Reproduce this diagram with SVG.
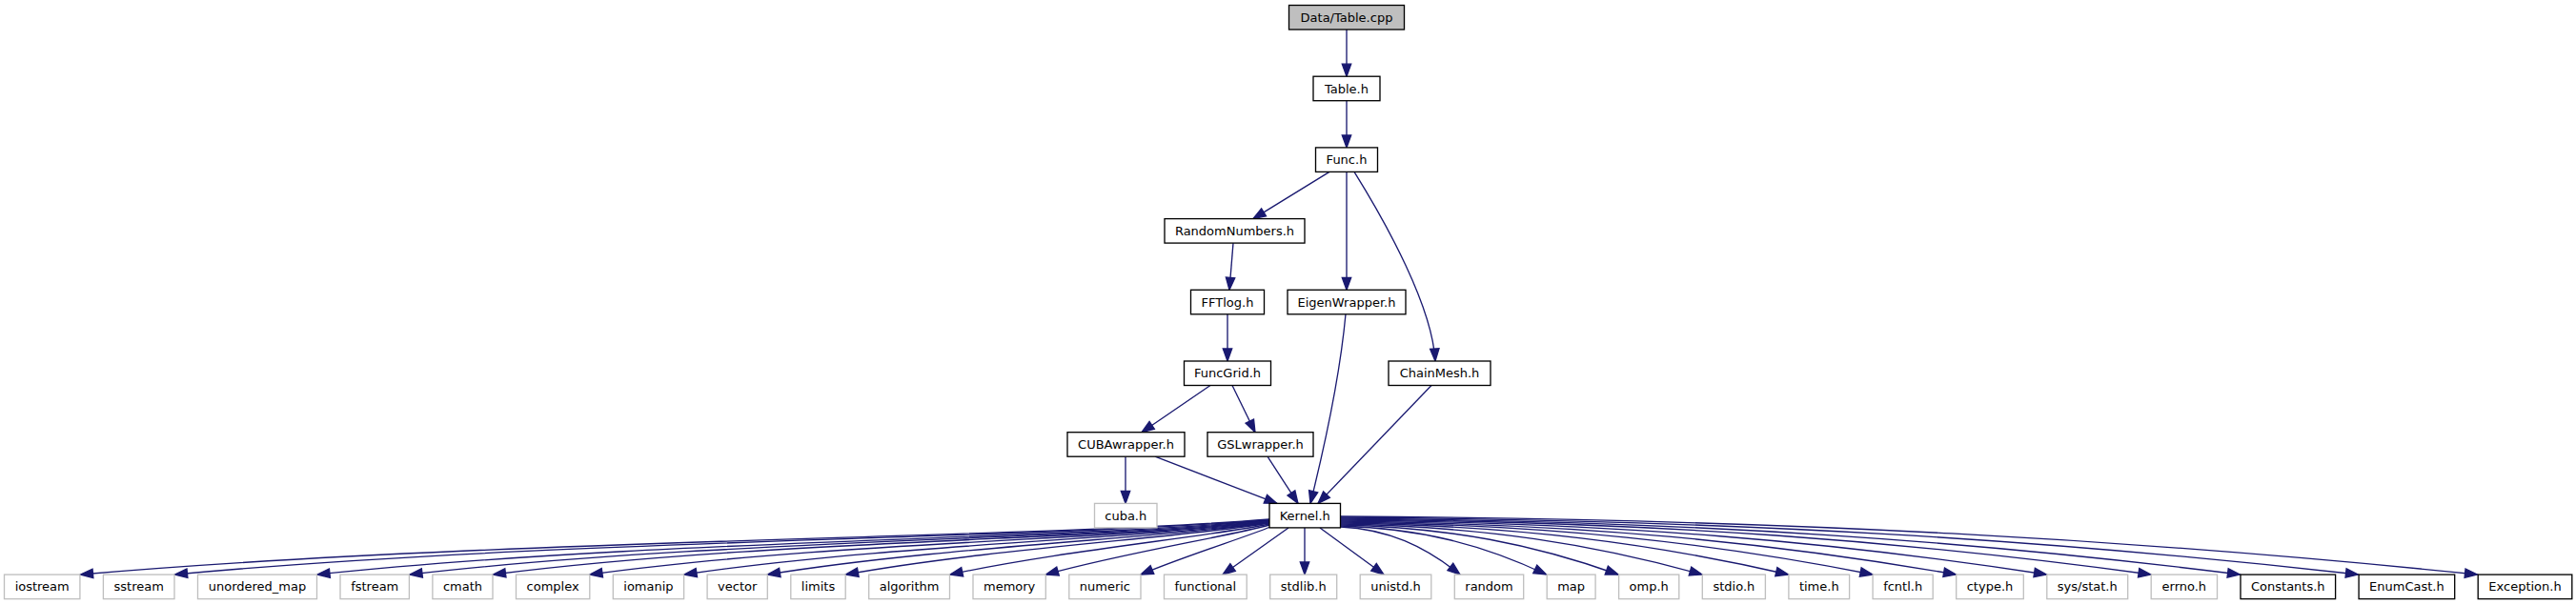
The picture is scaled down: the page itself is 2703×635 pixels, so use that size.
<svg xmlns="http://www.w3.org/2000/svg" width="2703" height="635" viewBox="0 0 2703 635">
<style>
.n rect{fill:#ffffff;stroke:#000000;stroke-width:1.33}
.n.root rect{fill:#bfbfbf}
.n.ext rect{stroke:#bfbfbf}
.n text{font-family:"DejaVu Sans","Liberation Sans",sans-serif;font-size:13px;fill:#000000;text-anchor:middle}
#edges path{fill:none;stroke:#191970;stroke-width:1.33;marker-end:url(#arr)}
</style>
<defs>
<marker id="arr" viewBox="-15 -7 16 14" refX="0" refY="0" markerWidth="16" markerHeight="14" markerUnits="userSpaceOnUse" orient="auto">
<path d="M0,0 L-13,-4.7 L-13,4.7 Z" fill="#191970" stroke="#191970" stroke-width="1.33"/>
</marker>
</defs>
<rect width="2703" height="635" fill="#ffffff"/>
<g id="edges">
<path d="M1413,31 L1413,80.2"/>
<path d="M1413,105.7 L1413,154.9"/>
<path d="M1395,180.4 L1315,229.6"/>
<path d="M1413,180.4 L1413,304.3"/>
<path d="M1421,180.4 C1455,235 1503,322 1506,379"/>
<path d="M1294,255.1 L1290,304.3"/>
<path d="M1288,329.8 L1288,379"/>
<path d="M1270,404.5 L1198,453.7"/>
<path d="M1293,404.5 L1317,453.7"/>
<path d="M1181,479.2 L1181,528.4"/>
<path d="M1212,479.2 L1340,528.4"/>
<path d="M1330,479.2 L1362,528.4"/>
<path d="M1412,329.8 C1406,395 1392,460 1375,528.4"/>
<path d="M1502,404.5 L1383,528.4"/>
<path d="M1332,545 C1082.5,565.3 521.1,565.3 84.5,603"/>
<path d="M1332,545.5 C1102.3,565.6 585.5,565.6 183.5,603"/>
<path d="M1332,546 C1132.2,566 682.7,566 333,603"/>
<path d="M1332,546.5 C1151.6,566.3 745.7,566.3 430,603"/>
<path d="M1332,547 C1169.1,566.6 802.6,566.6 517.5,603"/>
<path d="M1332,547.5 C1189.4,566 868.6,568.7 619,603"/>
<path d="M1332,548 C1209.2,565.3 932.9,571.1 718,603"/>
<path d="M1332,548.5 C1226.7,564.8 989.8,573.2 805.5,603"/>
<path d="M1332,549 C1243.1,564.3 1043.1,575.1 887.5,603"/>
<path d="M1332,550 C1265,563.9 1114.3,577.8 997,603"/>
<path d="M1332,551 C1285.1,563.7 1179.6,580.2 1097.5,603"/>
<path d="M1333,553 C1305.8,564.3 1244.6,583 1197,603"/>
<path d="M1352,554 L1283,603"/>
<path d="M1369,554 L1369,603"/>
<path d="M1385,554 L1452,603"/>
<path d="M1406.5,553 C1456.7,555.5 1494.4,573 1532,603"/>
<path d="M1406.5,552 C1492.9,554.6 1557.7,572.4 1622.5,603"/>
<path d="M1406.5,551 C1523.1,553.6 1610.6,571.8 1698,603"/>
<path d="M1406.5,550 C1558.3,552.7 1672.2,571.2 1786,603"/>
<path d="M1406.5,549 C1594.5,551.7 1735.5,570.6 1876.5,603"/>
<path d="M1406.5,548 C1629.9,550.8 1797.5,570 1965,603"/>
<path d="M1406.5,547 C1664.9,549.8 1858.7,569.4 2052.5,603"/>
<path d="M1406.5,546 C1702.9,548.9 1925.2,568.8 2147.5,603"/>
<path d="M1406.5,545 C1746.7,547.9 2001.9,568.2 2257,603"/>
<path d="M1406.5,544 C1784.1,547 2067.3,567.6 2350.5,603"/>
<path d="M1406.5,543 C1833.7,546 2154.1,567 2474.5,603"/>
<path d="M1406.5,542 C1883.7,545.1 2241.6,566.4 2599.5,603"/>
</g>
<g id="node_table_cpp" class="n root"><rect x="1352.5" y="5.5" width="121" height="25.5"/><text x="1413" y="22.8">Data/Table.cpp</text></g>
<g id="node_table_h" class="n"><rect x="1378" y="80.2" width="70" height="25.5"/><text x="1413" y="97.5">Table.h</text></g>
<g id="node_func_h" class="n"><rect x="1380.5" y="154.9" width="65" height="25.5"/><text x="1413" y="172.2">Func.h</text></g>
<g id="node_randomnumbers_h" class="n"><rect x="1222" y="229.6" width="147" height="25.5"/><text x="1295.5" y="246.9">RandomNumbers.h</text></g>
<g id="node_fftlog_h" class="n"><rect x="1249.5" y="304.3" width="77" height="25.5"/><text x="1288" y="321.6">FFTlog.h</text></g>
<g id="node_eigenwrapper_h" class="n"><rect x="1351" y="304.3" width="124" height="25.5"/><text x="1413" y="321.6">EigenWrapper.h</text></g>
<g id="node_funcgrid_h" class="n"><rect x="1242.5" y="379" width="91" height="25.5"/><text x="1288" y="396.3">FuncGrid.h</text></g>
<g id="node_chainmesh_h" class="n"><rect x="1457" y="379" width="107" height="25.5"/><text x="1510.5" y="396.3">ChainMesh.h</text></g>
<g id="node_cubawrapper_h" class="n"><rect x="1120" y="453.7" width="123" height="25.5"/><text x="1181.5" y="471">CUBAwrapper.h</text></g>
<g id="node_gslwrapper_h" class="n"><rect x="1267" y="453.7" width="111" height="25.5"/><text x="1322.5" y="471">GSLwrapper.h</text></g>
<g id="node_cuba_h" class="n ext"><rect x="1148.5" y="528.4" width="65.5" height="25.5"/><text x="1181.25" y="545.7">cuba.h</text></g>
<g id="node_kernel_h" class="n"><rect x="1332" y="528.4" width="74.5" height="25.5"/><text x="1369.25" y="545.7">Kernel.h</text></g>
<g id="node_iostream" class="n ext"><rect x="4.5" y="603.1" width="79.4" height="25.5"/><text x="44.2" y="620.4">iostream</text></g>
<g id="node_sstream" class="n ext"><rect x="108.4" y="603.1" width="74.6" height="25.5"/><text x="145.7" y="620.4">sstream</text></g>
<g id="node_unordered_map" class="n ext"><rect x="207.5" y="603.1" width="125" height="25.5"/><text x="270" y="620.4">unordered_map</text></g>
<g id="node_fstream" class="n ext"><rect x="357" y="603.1" width="72.4" height="25.5"/><text x="393.2" y="620.4">fstream</text></g>
<g id="node_cmath" class="n ext"><rect x="453.9" y="603.1" width="63.1" height="25.5"/><text x="485.45" y="620.4">cmath</text></g>
<g id="node_complex" class="n ext"><rect x="541.5" y="603.1" width="77.3" height="25.5"/><text x="580.15" y="620.4">complex</text></g>
<g id="node_iomanip" class="n ext"><rect x="643.3" y="603.1" width="74.3" height="25.5"/><text x="680.45" y="620.4">iomanip</text></g>
<g id="node_vector" class="n ext"><rect x="742.1" y="603.1" width="63.2" height="25.5"/><text x="773.7" y="620.4">vector</text></g>
<g id="node_limits" class="n ext"><rect x="829.8" y="603.1" width="57.4" height="25.5"/><text x="858.5" y="620.4">limits</text></g>
<g id="node_algorithm" class="n ext"><rect x="911.7" y="603.1" width="84.8" height="25.5"/><text x="954.1" y="620.4">algorithm</text></g>
<g id="node_memory" class="n ext"><rect x="1021" y="603.1" width="76.3" height="25.5"/><text x="1059.15" y="620.4">memory</text></g>
<g id="node_numeric" class="n ext"><rect x="1121.8" y="603.1" width="75.2" height="25.5"/><text x="1159.4" y="620.4">numeric</text></g>
<g id="node_functional" class="n ext"><rect x="1221.5" y="603.1" width="86.7" height="25.5"/><text x="1264.85" y="620.4">functional</text></g>
<g id="node_stdlib_h" class="n ext"><rect x="1332.7" y="603.1" width="70" height="25.5"/><text x="1367.7" y="620.4">stdlib.h</text></g>
<g id="node_unistd_h" class="n ext"><rect x="1427.2" y="603.1" width="74.6" height="25.5"/><text x="1464.5" y="620.4">unistd.h</text></g>
<g id="node_random" class="n ext"><rect x="1526.3" y="603.1" width="72.4" height="25.5"/><text x="1562.5" y="620.4">random</text></g>
<g id="node_map" class="n ext"><rect x="1623.2" y="603.1" width="50.9" height="25.5"/><text x="1648.65" y="620.4">map</text></g>
<g id="node_omp_h" class="n ext"><rect x="1698.6" y="603.1" width="63.2" height="25.5"/><text x="1730.2" y="620.4">omp.h</text></g>
<g id="node_stdio_h" class="n ext"><rect x="1786.3" y="603.1" width="66.1" height="25.5"/><text x="1819.35" y="620.4">stdio.h</text></g>
<g id="node_time_h" class="n ext"><rect x="1876.9" y="603.1" width="63.7" height="25.5"/><text x="1908.75" y="620.4">time.h</text></g>
<g id="node_fcntl_h" class="n ext"><rect x="1965.1" y="603.1" width="63.1" height="25.5"/><text x="1996.65" y="620.4">fcntl.h</text></g>
<g id="node_ctype_h" class="n ext"><rect x="2052.7" y="603.1" width="70.6" height="25.5"/><text x="2088" y="620.4">ctype.h</text></g>
<g id="node_sys_stat_h" class="n ext"><rect x="2147.8" y="603.1" width="84.9" height="25.5"/><text x="2190.25" y="620.4">sys/stat.h</text></g>
<g id="node_errno_h" class="n ext"><rect x="2257.2" y="603.1" width="69.3" height="25.5"/><text x="2291.85" y="620.4">errno.h</text></g>
<g id="node_constants_h" class="n"><rect x="2351" y="603.1" width="99.6" height="25.5"/><text x="2400.8" y="620.4">Constants.h</text></g>
<g id="node_enumcast_h" class="n"><rect x="2475.1" y="603.1" width="100.6" height="25.5"/><text x="2525.4" y="620.4">EnumCast.h</text></g>
<g id="node_exception_h" class="n"><rect x="2600.2" y="603.1" width="98.6" height="25.5"/><text x="2649.5" y="620.4">Exception.h</text></g>
</svg>
